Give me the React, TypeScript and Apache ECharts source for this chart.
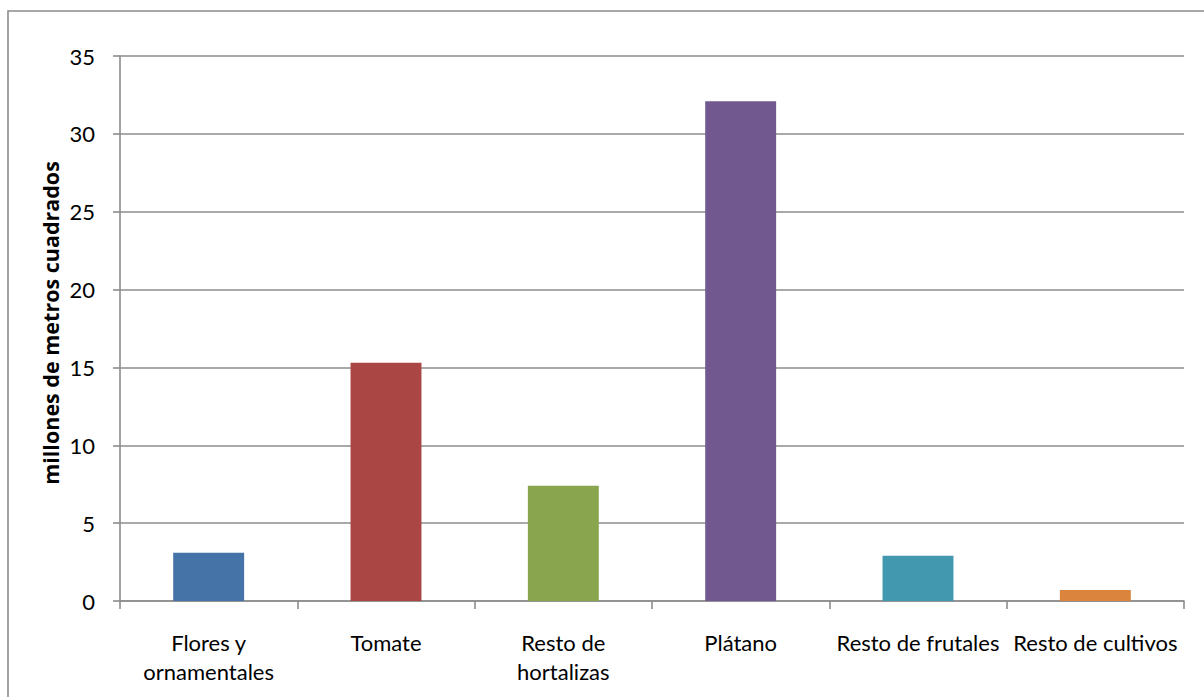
import React, { useEffect, useRef } from "react";
import * as echarts from "echarts";

const categories = [
  "Flores y\nornamentales",
  "Tomate",
  "Resto de\nhortalizas",
  "Plátano",
  "Resto de frutales",
  "Resto de cultivos",
];
const values = [3.1, 15.3, 7.4, 32.1, 2.9, 0.7];
const barColors = ["#4572A7", "#AA4643", "#89A54E", "#71588F", "#4198AF", "#DB843D"];
const yTitle = "millones de metros cuadrados";

export default function App() {
  const ref = useRef<HTMLDivElement>(null);
  useEffect(() => {
    if (!ref.current) return;
    const chart = echarts.init(ref.current, null, { renderer: "svg" });
    const font = "Lato, 'Liberation Sans', sans-serif";
    chart.setOption({
      animation: false,
      backgroundColor: "#ffffff",
      grid: { left: 120, top: 56, right: 20, bottom: 96 },
      xAxis: {
        type: "category",
        data: categories,
        axisLine: { lineStyle: { color: "#8c8c8c", width: 1.6 } },
        axisTick: { show: true, length: 8, lineStyle: { color: "#8c8c8c", width: 1.6 } },
        axisLabel: {
          color: "#000",
          fontFamily: font,
          fontSize: 22,
          lineHeight: 29,
          margin: 27,
          interval: 0,
        },
      },
      yAxis: {
        type: "value",
        min: 0,
        max: 35,
        interval: 5,
        axisLine: { show: true, lineStyle: { color: "#8c8c8c", width: 1.6 } },
        axisTick: { show: true, length: 7, lineStyle: { color: "#8c8c8c", width: 1.6 } },
        splitLine: { lineStyle: { color: "#8c8c8c", width: 1.6 } },
        axisLabel: { color: "#000", fontFamily: font, fontSize: 22, margin: 25 },
      },
      series: [
        {
          type: "bar",
          data: values.map((v, i) => ({ value: v, itemStyle: { color: barColors[i] } })),
          barWidth: "40%",
        },
      ],
      graphic: [
        {
          type: "rect",
          shape: { x: 8, y: 11, width: 1400, height: 900 },
          style: { fill: "none", stroke: "#8c8c8c", lineWidth: 1.6 },
          silent: true,
        },
        {
          type: "text",
          x: 50,
          y: 323,
          rotation: Math.PI / 2,
          style: {
            text: yTitle,
            fontFamily: "'Open Sans', sans-serif",
            fontWeight: "bold",
            fontSize: 21.5,
            fill: "#000",
            align: "center",
            verticalAlign: "middle",
          },
        },
      ],
    });
    return () => chart.dispose();
  }, []);
  return (
    <div
      ref={ref}
      style={{ position: "fixed", left: 0, top: 0, width: 1204, height: 697 }}
    />
  );
}
